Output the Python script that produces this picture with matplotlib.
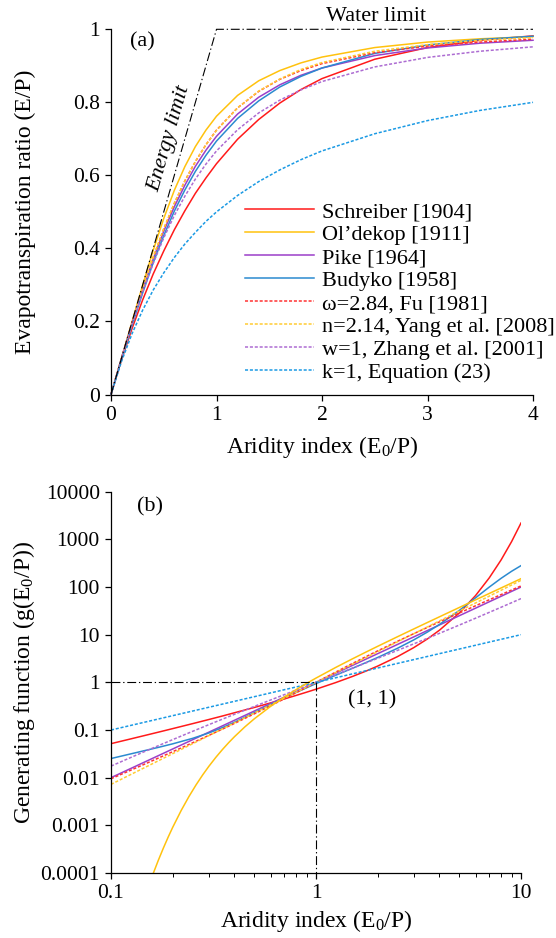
import matplotlib
matplotlib.use("Agg")
import matplotlib.pyplot as plt
from matplotlib.ticker import FixedLocator, FixedFormatter, NullLocator

plt.rcParams['font.family'] = ['Liberation Serif', 'DejaVu Serif']
plt.rcParams['mathtext.fontset'] = 'custom'
plt.rcParams['mathtext.rm'] = 'Liberation Serif'
plt.rcParams['mathtext.it'] = 'Liberation Serif:italic'

# ---------------- data: panel (a) evaporative ratio E/P ----------------
phi_a = [0, 0.1, 0.2, 0.3, 0.4, 0.5, 0.6, 0.7, 0.8, 0.9, 1.0,
         1.2, 1.4, 1.6, 1.8, 2.0, 2.5, 3.0, 3.5, 4.0]
ep_schreiber = [0, 0.095, 0.181, 0.259, 0.330, 0.393, 0.451, 0.503, 0.551, 0.593, 0.632,
                0.699, 0.753, 0.798, 0.835, 0.865, 0.918, 0.950, 0.970, 0.982]
ep_oldekop = [0, 0.100, 0.200, 0.299, 0.395, 0.482, 0.559, 0.624, 0.679, 0.724, 0.762,
              0.819, 0.859, 0.887, 0.908, 0.924, 0.950, 0.965, 0.974, 0.980]
ep_pike = [0, 0.0995, 0.196, 0.287, 0.371, 0.447, 0.514, 0.573, 0.625, 0.669, 0.707,
           0.768, 0.814, 0.848, 0.874, 0.894, 0.928, 0.949, 0.962, 0.970]
ep_budyko = [0, 0.0976, 0.190, 0.278, 0.361, 0.435, 0.502, 0.560, 0.611, 0.655, 0.694,
             0.756, 0.804, 0.842, 0.871, 0.894, 0.934, 0.957, 0.972, 0.981]
ep_fu = [0, 0.0995, 0.196, 0.289, 0.375, 0.453, 0.523, 0.585, 0.638, 0.684, 0.724,
         0.785, 0.830, 0.863, 0.887, 0.906, 0.936, 0.954, 0.965, 0.973]
ep_yang = [0, 0.0997, 0.197, 0.290, 0.376, 0.454, 0.524, 0.585, 0.638, 0.684, 0.723,
           0.785, 0.831, 0.864, 0.890, 0.909, 0.940, 0.958, 0.970, 0.977]
ep_zhang = [0, 0.0991, 0.194, 0.281, 0.359, 0.429, 0.490, 0.543, 0.590, 0.631, 0.667,
            0.725, 0.771, 0.806, 0.834, 0.857, 0.897, 0.923, 0.940, 0.952]
ep_k1 = [0, 0.0909, 0.167, 0.231, 0.286, 0.333, 0.375, 0.412, 0.444, 0.474, 0.500,
         0.545, 0.583, 0.615, 0.643, 0.667, 0.714, 0.750, 0.778, 0.800]

limit_x = [0, 1, 4]
limit_y = [0, 1, 1]

# ---------------- data: panel (b) generating function g ----------------
phi_b = [0.1, 0.125, 0.15, 0.175, 0.2, 0.25, 0.3, 0.35, 0.4, 0.5, 0.6, 0.7, 0.8, 0.9, 1.0,
         1.25, 1.5, 1.75, 2, 2.5, 3, 3.5, 4, 5, 6, 7, 8, 9, 10]
g_schreiber = [0.0517, 0.0652, 0.0789, 0.0928, 0.107, 0.136, 0.166, 0.197, 0.230, 0.297,
               0.370, 0.448, 0.532, 0.622, 0.718, 0.992, 1.321, 1.717, 2.195, 3.473,
               5.362, 8.176, 12.40, 28.48, 66.07, 155.5, 371.5, 899.2, 2202]
g_pike = [0.01, 0.015625, 0.0225, 0.030625, 0.04, 0.0625, 0.09, 0.1225, 0.16, 0.25, 0.36,
          0.49, 0.64, 0.81, 1.0, 1.5625, 2.25, 3.0625, 4, 6.25, 9, 12.25, 16, 25, 36, 49,
          64, 81, 100]
g_budyko = [0.0252, 0.0316, 0.0380, 0.0445, 0.0513, 0.0668, 0.0866, 0.1127, 0.1455,
            0.2314, 0.3408, 0.4693, 0.6135, 0.7711, 0.9407, 1.414, 1.961, 2.593, 3.328,
            5.196, 7.788, 11.39, 16.37, 32.28, 59.26, 99.68, 152.5, 214.2, 281.1]
g_fu = [0.00949, 0.01440, 0.02029, 0.02717, 0.03505, 0.05390, 0.07708, 0.1048, 0.1375,
        0.2185, 0.3225, 0.4514, 0.6067, 0.7894, 1.0, 1.648, 2.466, 3.445, 4.577, 7.275,
        10.52, 14.29, 18.55, 28.53, 40.38, 54.03, 69.44, 86.56, 105.4]
g_yang = [0.00724, 0.01168, 0.01725, 0.02399, 0.03193, 0.05147, 0.07604, 0.1058, 0.1407,
          0.2269, 0.3352, 0.4661, 0.6203, 0.7981, 1.0, 1.612, 2.381, 3.312, 4.408, 7.105,
          10.50, 14.60, 19.43, 31.32, 46.26, 64.34, 85.63, 110.2, 138.0]
g_zhang = [0.0175, 0.02656, 0.03721, 0.04934, 0.06286, 0.09375, 0.1294, 0.1693, 0.2133,
           0.3125, 0.4255, 0.5513, 0.6892, 0.8389, 1.0, 1.451, 1.969, 2.552, 3.2, 4.688,
           6.429, 8.422, 10.67, 15.91, 22.15, 29.4, 37.65, 46.89, 57.14]
g_k1 = [0.1, 0.125, 0.15, 0.175, 0.2, 0.25, 0.3, 0.35, 0.4, 0.5, 0.6, 0.7, 0.8, 0.9, 1.0,
        1.25, 1.5, 1.75, 2, 2.5, 3, 3.5, 4, 5, 6, 7, 8, 9, 10]
# Ol'dekop falls steeply at small aridity, so it is read at a finer set of points
phi_b_oldekop = [0.1, 0.125, 0.15, 0.16, 0.17, 0.18, 0.19, 0.2, 0.22, 0.24, 0.26, 0.28,
                 0.3, 0.325, 0.35, 0.375, 0.4, 0.45, 0.5, 0.6, 0.7, 0.8, 0.9, 1.0,
                 1.25, 1.5, 1.75, 2, 2.5, 3, 3.5, 4, 5, 6, 7, 8, 9, 10]
g_oldekop = [8.24e-8, 3.60e-6, 4.32e-5, 9.32e-5, 1.83e-4, 3.32e-4, 5.65e-4, 9.09e-4,
             2.053e-3, 4.022e-3, 7.070e-3, 0.01142, 0.01726, 0.02686, 0.03917, 0.05430,
             0.07225, 0.1166, 0.1717, 0.3126, 0.4909, 0.7042, 0.9507, 1.229,
             2.063, 3.089, 4.304, 5.708, 9.080, 13.20, 18.08, 23.70, 37.20, 53.70,
             73.20, 95.70, 121.2, 149.7]

ref_x = [0.1, 1, 1]
ref_y = [1, 1, 1e-4]

labels = ['Schreiber [1904]', 'Ol\u2019dekop [1911]', 'Pike [1964]', 'Budyko [1958]',
          '\u03c9=2.84, Fu [1981]', 'n=2.14, Yang et al. [2008]',
          'w=1, Zhang et al. [2001]', 'k=1, Equation (23)']
xticks_a = [0, 1, 2, 3, 4]
yticks_a = [0, 0.2, 0.4, 0.6, 0.8, 1.0]
yticklabels_a = ['0', '0.2', '0.4', '0.6', '0.8', '1']
xticks_b = [0.1, 1, 10]
xticklabels_b = ['0.1', '1', '10']
yticks_b = [1e-4, 1e-3, 1e-2, 1e-1, 1, 10, 100, 1000, 10000]
yticklabels_b = ['0.0001', '0.001', '0.01', '0.1', '1', '10', '100', '1000', '10000']

# ---------------- styles ----------------
colors = ['#ff1a1a', '#ffc20e', '#9b3fc9', '#2b8ad0',
          '#ff3333', '#ffcc33', '#ad6cd2', '#1b9ae4']
dash = (0, (2.0, 1.2))
styles = ['-', '-', '-', '-', dash, dash, dash, dash]
dashdot = (0, (8, 2.5, 1.2, 2.5))
LW = 1.1

FS_TICK = 15.5
FS_TXT = 16
FS_LAB = 17
W, H = 556, 938
fig = plt.figure(figsize=(W / 100, H / 100), dpi=100)

ax1 = fig.add_axes([111 / W, 1 - 394.5 / H, 422 / W, 365.2 / H])
ax2 = fig.add_axes([111 / W, 1 - 873 / H, 410 / W, 381.3 / H])

for ax in (ax1, ax2):
    for s in ('top', 'right'):
        ax.spines[s].set_visible(False)
    for s in ('left', 'bottom'):
        ax.spines[s].set_linewidth(0.9)
    ax.tick_params(direction='out', length=4.5, width=0.9, labelsize=FS_TICK, pad=3.5)
    ax.tick_params(which='minor', direction='out', length=3, width=0.7)

# ---- panel (a)
series_a = [ep_schreiber, ep_oldekop, ep_pike, ep_budyko, ep_fu, ep_yang, ep_zhang, ep_k1]
handles = []
for y, c, ls, lab in zip(series_a, colors, styles, labels):
    h, = ax1.plot(phi_a, y, color=c, lw=LW, linestyle=ls, label=lab, clip_on=False)
    handles.append(h)
ax1.plot(limit_x, limit_y, color='black', lw=0.8, linestyle=dashdot, clip_on=False)
ax1.set_xlim(0, 4)
ax1.set_ylim(0, 1)
ax1.xaxis.set_major_locator(FixedLocator(xticks_a))
ax1.yaxis.set_major_locator(FixedLocator(yticks_a))
ax1.yaxis.set_major_formatter(FixedFormatter(yticklabels_a))
ax1.set_xlabel('Aridity index (E$_0$/P)', fontsize=FS_LAB)
ax1.set_ylabel('Evapotranspiration ratio (E/P)', fontsize=FS_LAB)
ax1.xaxis.set_label_coords(0.5, -(434 - 394.5) / 365.2)
ax1.yaxis.set_label_coords(-(111 - 36) / 422, 0.5)
ax1.text(0.30, 0.966, '(a)', fontsize=FS_TXT, ha='center', va='center')
ax1.text(2.51, 1.034, 'Water limit', fontsize=FS_TXT, ha='center', va='center')
ax1.text(0.55, 0.70, 'Energy limit', fontsize=FS_TXT, style='italic', rotation=73.9,
         rotation_mode='anchor', ha='center', va='center')
leg = ax1.legend(handles=handles, loc='upper left', frameon=False, fontsize=FS_TXT,
                 bbox_to_anchor=(245 / W, 1 - 201.5 / H), bbox_transform=fig.transFigure,
                 handlelength=3.1, handletextpad=0.35, labelspacing=0.11,
                 borderpad=0, borderaxespad=0)

# ---- panel (b)
series_b = [g_schreiber, g_pike, g_budyko, g_fu, g_yang, g_zhang, g_k1]
idx_b = [0, 2, 3, 4, 5, 6, 7]
for y, i in zip(series_b, idx_b):
    ax2.plot(phi_b, y, color=colors[i], lw=LW, linestyle=styles[i])
ax2.plot(phi_b_oldekop, g_oldekop, color=colors[1], lw=LW, linestyle=styles[1])
ax2.plot(ref_x, ref_y, color='black', lw=0.8, linestyle=dashdot)
ax2.set_xscale('log')
ax2.set_yscale('log')
ax2.set_xlim(0.1, 10)
ax2.set_ylim(1e-4, 1e4)
ax2.xaxis.set_major_locator(FixedLocator(xticks_b))
ax2.xaxis.set_major_formatter(FixedFormatter(xticklabels_b))
ax2.xaxis.set_minor_locator(FixedLocator([0.2, 0.3, 0.4, 0.5, 0.6, 0.7, 0.8, 0.9,
                                          2, 3, 4, 5, 6, 7, 8, 9]))
ax2.xaxis.set_minor_formatter(FixedFormatter([''] * 16))
ax2.yaxis.set_major_locator(FixedLocator(yticks_b))
ax2.yaxis.set_major_formatter(FixedFormatter(yticklabels_b))
ax2.yaxis.set_minor_locator(NullLocator())
ax2.set_xlabel('Aridity index (E$_0$/P)', fontsize=FS_LAB)
ax2.set_ylabel('Generating function (g(E$_0$/P))', fontsize=FS_LAB)
ax2.xaxis.set_label_coords(0.5, -(908 - 873) / 381.3)
ax2.yaxis.set_label_coords(-(111 - 37) / 410, 0.5)
ax2.text(0.0947, 0.961, '(b)', fontsize=FS_TXT, ha='center', va='center', transform=ax2.transAxes)
ax2.text(0.636, 0.454, '(1, 1)', fontsize=FS_TXT, ha='center', va='center', transform=ax2.transAxes)

fig.savefig('out.png', dpi=100)
